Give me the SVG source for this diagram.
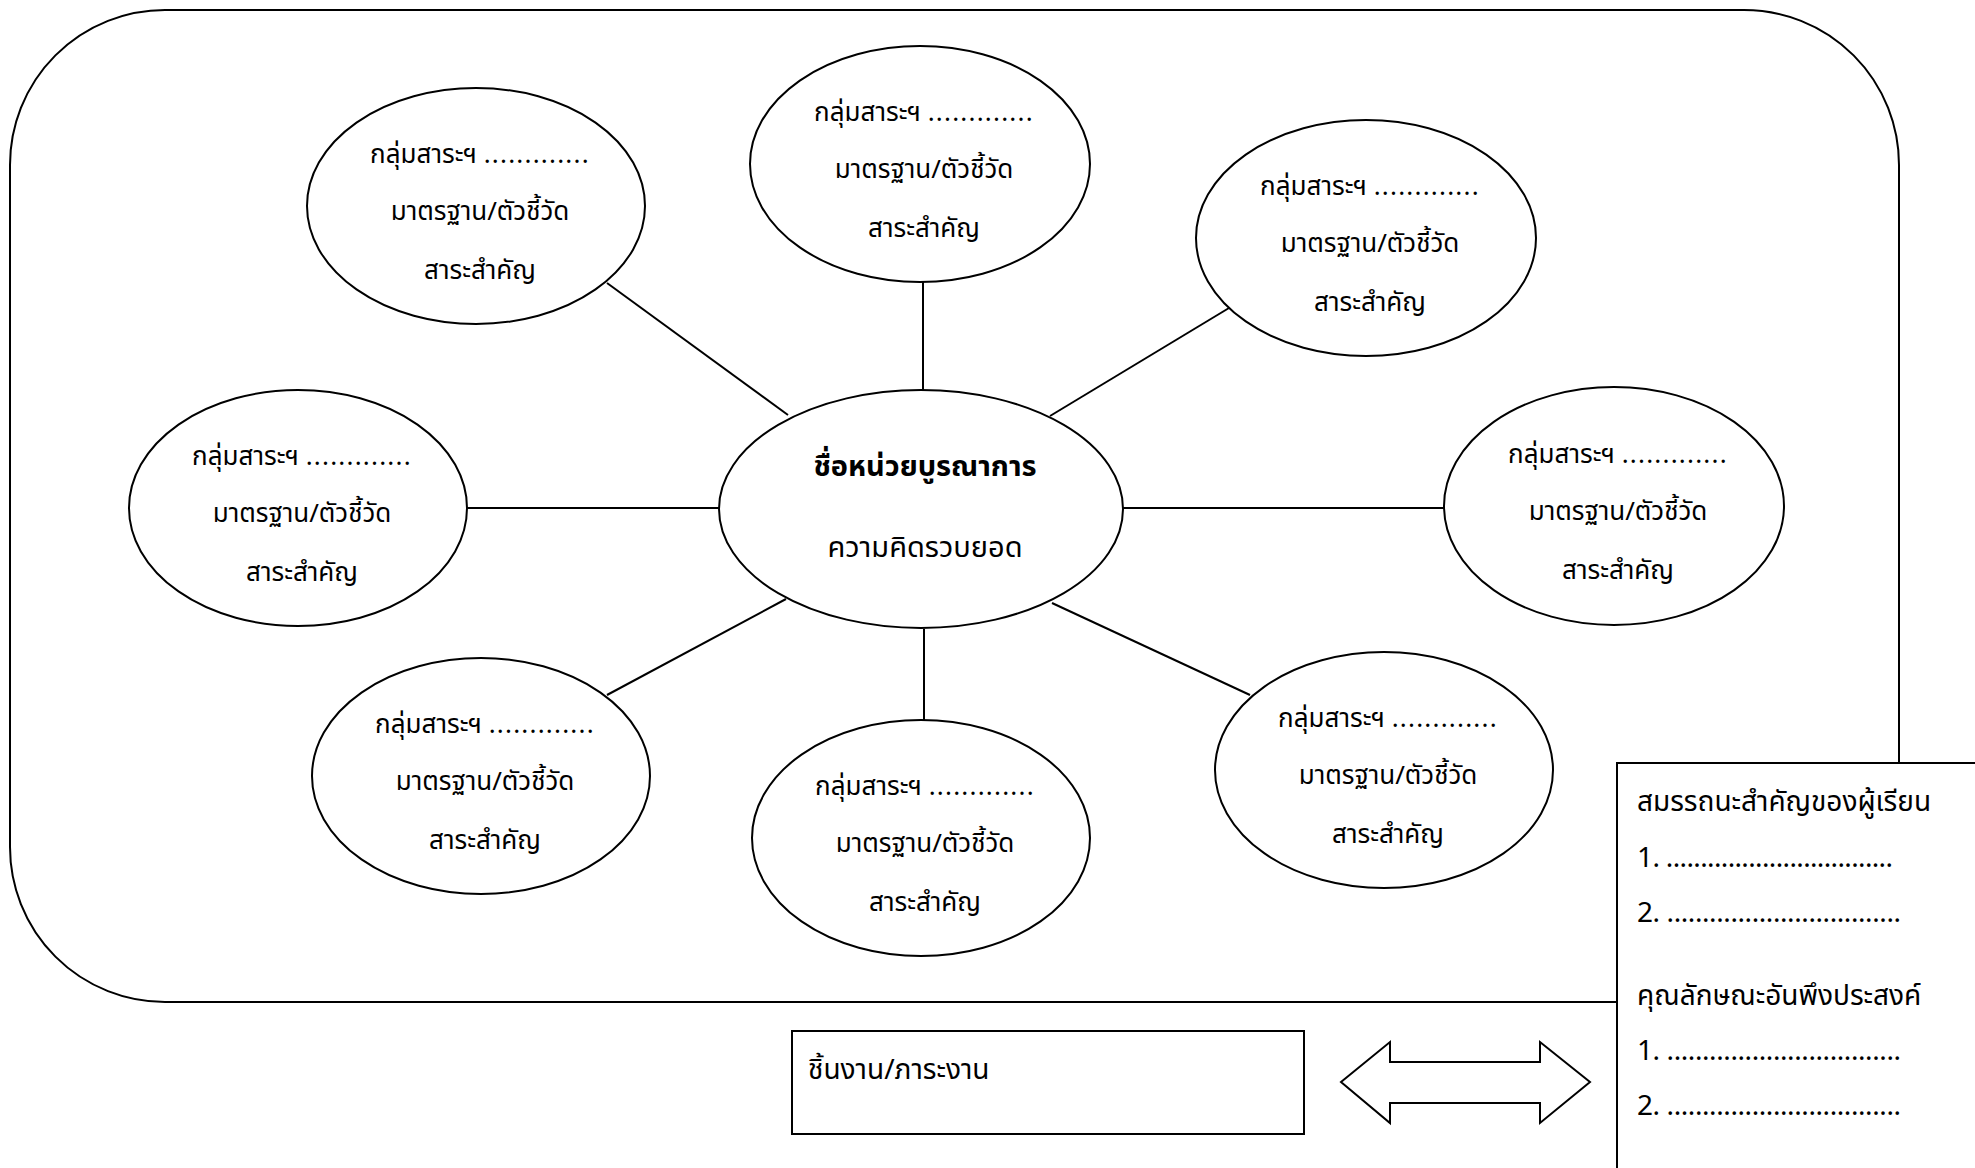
<svg xmlns="http://www.w3.org/2000/svg" width="1975" height="1168" viewBox="0 0 1975 1168">
<style>
.sh{fill:#fff;stroke:#000;stroke-width:2}
.ln{stroke:#000;stroke-width:2;fill:none}
.t{font-family:"Noto Sans Thai","Noto Sans","DejaVu Sans",sans-serif;font-size:26px;fill:#000;text-anchor:middle}
.d{letter-spacing:1.2px}
.c{font-size:29px}
.b{font-weight:bold}
.bx{font-family:"Noto Sans Thai","Noto Sans","DejaVu Sans",sans-serif;font-size:28px;fill:#000}
</style>
<rect x="0" y="0" width="1975" height="1168" fill="#fff"/>
<rect id="frame" class="sh" x="10" y="10" width="1889" height="992" rx="155" ry="155"/>
<g id="connectors">
<line class="ln" x1="607" y1="283" x2="788" y2="415"/>
<line class="ln" x1="923" y1="282" x2="923" y2="390"/>
<line class="ln" x1="1229" y1="308" x2="1050" y2="416"/>
<line class="ln" x1="466" y1="508" x2="719" y2="508"/>
<line class="ln" x1="1123" y1="508" x2="1444" y2="508"/>
<line class="ln" x1="607" y1="695" x2="786" y2="599"/>
<line class="ln" x1="924" y1="629" x2="924" y2="720"/>
<line class="ln" x1="1052" y1="603" x2="1250" y2="695"/>
</g>
<g id="center">
<ellipse class="sh" cx="921" cy="509" rx="202" ry="119"/>
<text class="t c b" x="925" y="476">ชื่อหน่วยบูรณาการ</text>
<text class="t c" x="925" y="557">ความคิดรวบยอด</text>
</g>
<g id="n-top-left">
<ellipse class="sh" cx="476" cy="206" rx="169" ry="118"/>
<text class="t" x="480" y="163">กลุ่มสาระฯ <tspan class="d">.............</tspan></text>
<text class="t" x="480" y="220">มาตรฐาน/ตัวชี้วัด</text>
<text class="t" x="480" y="279">สาระสำคัญ</text>
</g>
<g id="n-top">
<ellipse class="sh" cx="920" cy="164" rx="170" ry="118"/>
<text class="t" x="924" y="121">กลุ่มสาระฯ <tspan class="d">.............</tspan></text>
<text class="t" x="924" y="178">มาตรฐาน/ตัวชี้วัด</text>
<text class="t" x="924" y="237">สาระสำคัญ</text>
</g>
<g id="n-top-right">
<ellipse class="sh" cx="1366" cy="238" rx="170" ry="118"/>
<text class="t" x="1370" y="195">กลุ่มสาระฯ <tspan class="d">.............</tspan></text>
<text class="t" x="1370" y="252">มาตรฐาน/ตัวชี้วัด</text>
<text class="t" x="1370" y="311">สาระสำคัญ</text>
</g>
<g id="n-left">
<ellipse class="sh" cx="298" cy="508" rx="169" ry="118"/>
<text class="t" x="302" y="465">กลุ่มสาระฯ <tspan class="d">.............</tspan></text>
<text class="t" x="302" y="522">มาตรฐาน/ตัวชี้วัด</text>
<text class="t" x="302" y="581">สาระสำคัญ</text>
</g>
<g id="n-right">
<ellipse class="sh" cx="1614" cy="506" rx="170" ry="119"/>
<text class="t" x="1618" y="463">กลุ่มสาระฯ <tspan class="d">.............</tspan></text>
<text class="t" x="1618" y="520">มาตรฐาน/ตัวชี้วัด</text>
<text class="t" x="1618" y="579">สาระสำคัญ</text>
</g>
<g id="n-bottom-left">
<ellipse class="sh" cx="481" cy="776" rx="169" ry="118"/>
<text class="t" x="485" y="733">กลุ่มสาระฯ <tspan class="d">.............</tspan></text>
<text class="t" x="485" y="790">มาตรฐาน/ตัวชี้วัด</text>
<text class="t" x="485" y="849">สาระสำคัญ</text>
</g>
<g id="n-bottom">
<ellipse class="sh" cx="921" cy="838" rx="169" ry="118"/>
<text class="t" x="925" y="795">กลุ่มสาระฯ <tspan class="d">.............</tspan></text>
<text class="t" x="925" y="852">มาตรฐาน/ตัวชี้วัด</text>
<text class="t" x="925" y="911">สาระสำคัญ</text>
</g>
<g id="n-bottom-right">
<ellipse class="sh" cx="1384" cy="770" rx="169" ry="118"/>
<text class="t" x="1388" y="727">กลุ่มสาระฯ <tspan class="d">.............</tspan></text>
<text class="t" x="1388" y="784">มาตรฐาน/ตัวชี้วัด</text>
<text class="t" x="1388" y="843">สาระสำคัญ</text>
</g>
<g id="work">
<rect class="sh" x="792" y="1031" width="512" height="103"/>
<text class="bx" x="808" y="1079" font-size="30">ชิ้นงาน/ภาระงาน</text>
</g>
<g id="double-arrow">
<polygon class="sh" points="1341,1082 1390,1042 1390,1062 1540,1062 1540,1042 1590,1082 1540,1123 1540,1103 1390,1103 1390,1123"/>
</g>
<g id="competency">
<rect class="sh" x="1617" y="763" width="400" height="420"/>
<text class="bx" x="1637" y="811">สมรรถนะสำคัญของผู้เรียน</text>
<text class="bx" x="1637" y="867" textLength="256" lengthAdjust="spacing">1. .................................</text>
<text class="bx" x="1637" y="922" textLength="264" lengthAdjust="spacing">2. .................................</text>
<text class="bx" x="1637" y="1005">คุณลักษณะอันพึงประสงค์</text>
<text class="bx" x="1637" y="1060" textLength="264" lengthAdjust="spacing">1. .................................</text>
<text class="bx" x="1637" y="1115" textLength="264" lengthAdjust="spacing">2. .................................</text>
</g>
</svg>
